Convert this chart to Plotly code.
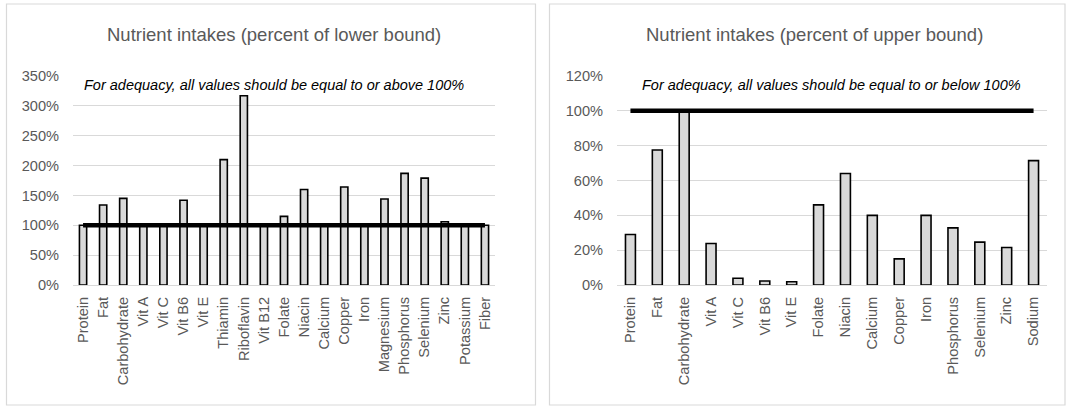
import plotly.graph_objects as go

W, H = 1068, 407

left_categories = ["Protein", "Fat", "Carbohydrate", "Vit A", "Vit C", "Vit B6", "Vit E",
                   "Thiamin", "Riboflavin", "Vit B12", "Folate", "Niacin", "Calcium", "Copper",
                   "Iron", "Magnesium", "Phosphorus", "Selenium", "Zinc", "Potassium", "Fiber"]
left_values = [1.00, 1.34, 1.45, 1.00, 1.00, 1.42, 1.00, 2.10, 3.17, 1.00, 1.15, 1.60, 1.00,
               1.64, 1.00, 1.44, 1.87, 1.79, 1.06, 1.00, 1.00]
left_bound = 1.0

right_categories = ["Protein", "Fat", "Carbohydrate", "Vit A", "Vit C", "Vit B6", "Vit E",
                    "Folate", "Niacin", "Calcium", "Copper", "Iron", "Phosphorus", "Selenium",
                    "Zinc", "Sodium"]
right_values = [0.29, 0.775, 1.00, 0.238, 0.039, 0.023, 0.019, 0.46, 0.64, 0.40, 0.15, 0.40,
                0.328, 0.246, 0.215, 0.714]
right_bound = 1.0

left_ticks = [0, 0.5, 1.0, 1.5, 2.0, 2.5, 3.0, 3.5]
right_ticks = [0, 0.2, 0.4, 0.6, 0.8, 1.0, 1.2]

FONT = "Liberation Sans, Arial, sans-serif"
GRAY = "#595959"

def px_x(p):
    return p / W

def px_y(p):
    return (H - p) / H

fig = go.Figure()

bar_style = dict(marker=dict(color="#d9d9d9", line=dict(color="black", width=1.6)), showlegend=False)

fig.add_trace(go.Bar(x=left_categories, y=left_values, width=0.36, xaxis="x", yaxis="y", **bar_style))
fig.add_trace(go.Scatter(x=left_categories, y=[left_bound] * len(left_categories), mode="lines",
                         line=dict(color="black", width=4.5), xaxis="x", yaxis="y", showlegend=False))
fig.add_trace(go.Bar(x=right_categories, y=right_values, width=0.37, xaxis="x2", yaxis="y2", **bar_style))
fig.add_trace(go.Scatter(x=right_categories, y=[right_bound] * len(right_categories), mode="lines",
                         line=dict(color="black", width=4.5), xaxis="x2", yaxis="y2", showlegend=False))

ydom = [px_y(285), px_y(76)]
xaxis_common = dict(showgrid=False, showline=True, linecolor="#d9d9d9", linewidth=1, ticks="",
                    tickangle=-90, tickfont=dict(family=FONT, size=14.6, color=GRAY), fixedrange=True,
                    automargin=False, ticklabelstandoff=5)
yaxis_common = dict(showgrid=True, gridcolor="#d9d9d9", gridwidth=1, zeroline=False, showline=False,
                    tickformat=".0%", tickfont=dict(family=FONT, size=14.6, color=GRAY), ticks="",
                    fixedrange=True, automargin=False, ticklabelstandoff=13)

fig.update_layout(
    width=W, height=H,
    margin=dict(l=0, r=0, t=0, b=0, pad=0, autoexpand=False),
    paper_bgcolor="white", plot_bgcolor="white",
    bargap=0.6,
    xaxis=dict(domain=[px_x(73), px_x(495)], anchor="y", **xaxis_common),
    yaxis=dict(domain=ydom, anchor="x", range=[0, 3.5], tickvals=left_ticks, **yaxis_common),
    xaxis2=dict(domain=[px_x(617), px_x(1047)], anchor="y2", **xaxis_common),
    yaxis2=dict(domain=ydom, anchor="x2", range=[0, 1.2], tickvals=right_ticks, **yaxis_common),
    shapes=[
        dict(type="rect", xref="paper", yref="paper", x0=px_x(6.5), x1=px_x(535.5), y0=px_y(405), y1=px_y(4),
             line=dict(color="#d9d9d9", width=1.2), fillcolor="rgba(0,0,0,0)", layer="below"),
        dict(type="rect", xref="paper", yref="paper", x0=px_x(549.5), x1=px_x(1065), y0=px_y(405), y1=px_y(4),
             line=dict(color="#d9d9d9", width=1.2), fillcolor="rgba(0,0,0,0)", layer="below"),
    ],
    annotations=[
        dict(text="Nutrient intakes (percent of lower bound)", xref="paper", yref="paper",
             x=px_x(274), y=px_y(35), xanchor="center", yanchor="middle", showarrow=False,
             font=dict(family=FONT, size=18.5, color=GRAY)),
        dict(text="Nutrient intakes (percent of upper bound)", xref="paper", yref="paper",
             x=px_x(814), y=px_y(35), xanchor="center", yanchor="middle", showarrow=False,
             font=dict(family=FONT, size=18.5, color=GRAY)),
        dict(text="<i>For adequacy, all values should be equal to or above 100%</i>", xref="paper", yref="paper",
             x=px_x(274), y=px_y(85), xanchor="center", yanchor="middle", showarrow=False,
             font=dict(family=FONT, size=14.5, color="black")),
        dict(text="<i>For adequacy, all values should be equal to or below 100%</i>", xref="paper", yref="paper",
             x=px_x(831), y=px_y(85), xanchor="center", yanchor="middle", showarrow=False,
             font=dict(family=FONT, size=14.5, color="black")),
    ],
)

fig.write_html("out.html", config={"displayModeBar": False},
               post_script="document.body.style.margin='0';document.body.style.overflow='hidden';")
